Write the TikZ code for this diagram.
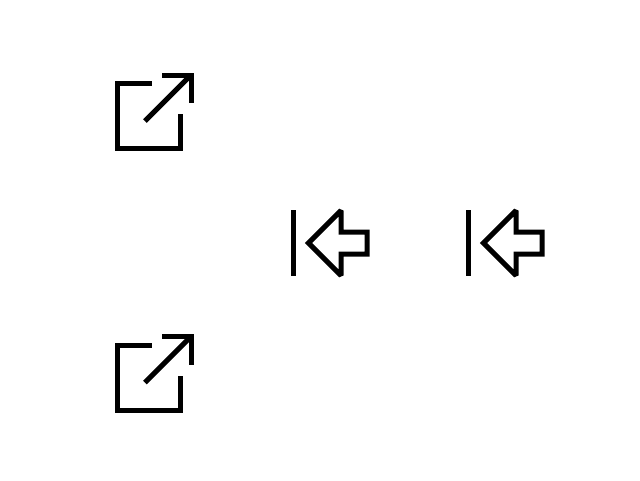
\documentclass[tikz,border=0pt]{standalone}
\tikzset{
  icon/.style={draw=black,line width=5pt,miter limit=10,fill=none},
  headline/.style={icon,miter limit=2},
  extlink/.pic={
    \draw[icon] (151.7,83.5) -- (117.5,83.5) -- (117.5,148.5) -- (180.7,148.5) -- (180.7,114.3);
    \draw[icon] (162.3,75) -- (191,75) -- (191,103.3);
    \draw[icon] (145,121) -- (191,75);
  },
  backarrow/.pic={
    \draw[icon] (293.5,210) -- (293.5,276);
    \draw[headline] (308.5,243) -- (341,210.5) -- (341,232) -- (367,232) -- (367,254) -- (341,254) -- (341,275.5) -- cycle;
  }
}
\begin{document}
\begin{tikzpicture}[x=1pt,y=-1pt]
\useasboundingbox (0,0) rectangle (640,480);
\pic at (0,0) {extlink};
\pic at (0,261.5) {extlink};
\pic at (0,0) {backarrow};
\pic at (175,0) {backarrow};
\end{tikzpicture}
\end{document}
